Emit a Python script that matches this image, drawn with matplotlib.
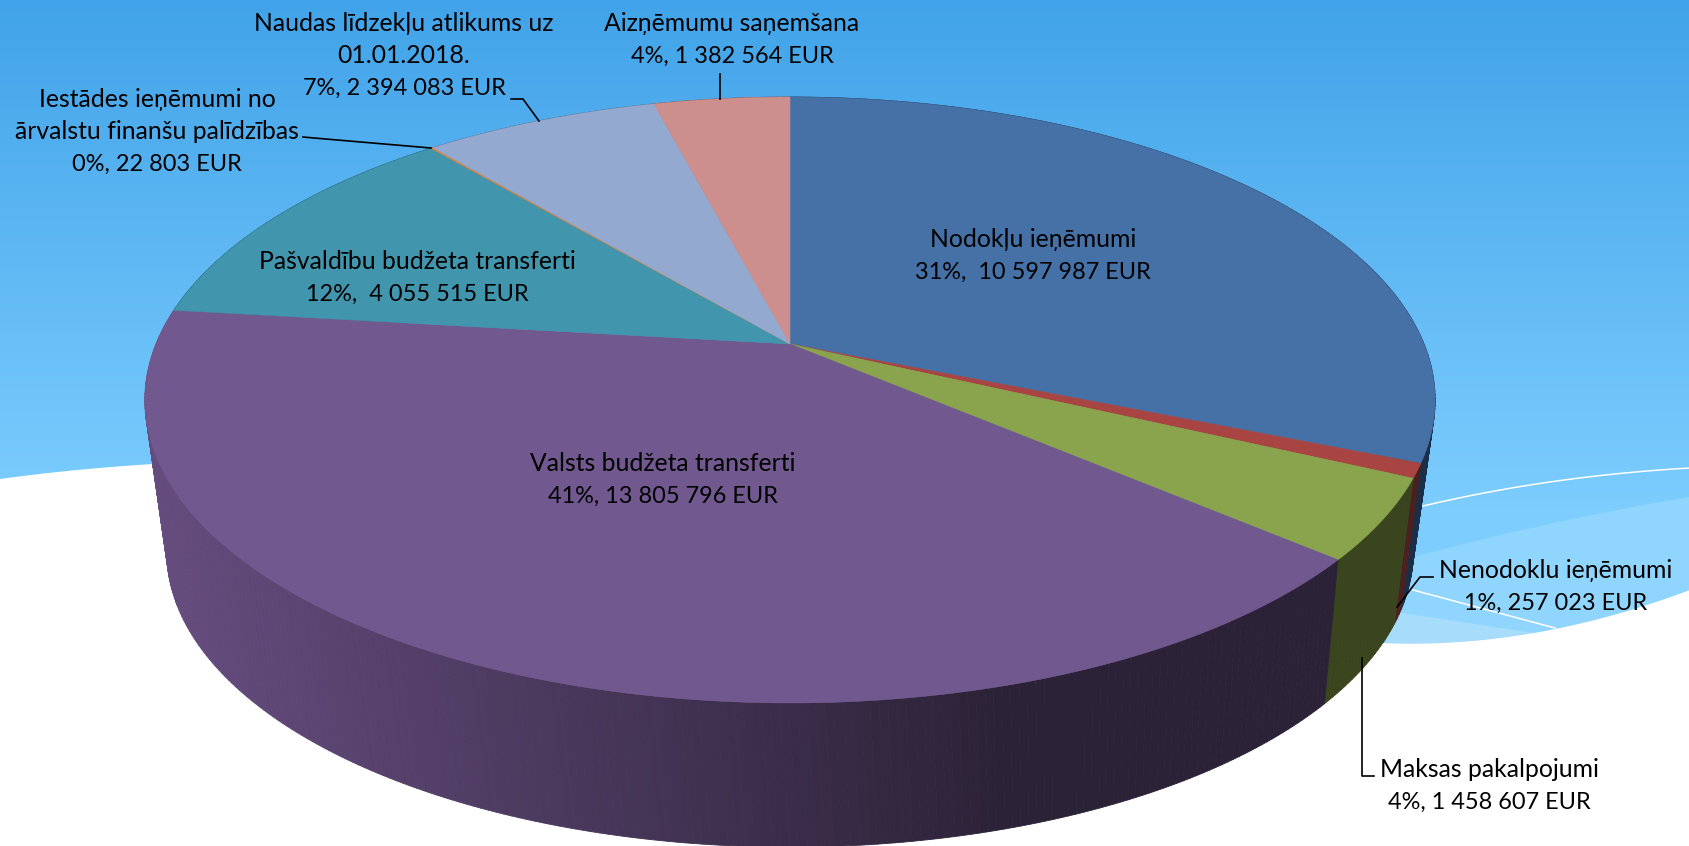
import matplotlib

matplotlib.use("Agg")

import matplotlib.pyplot as plt
import numpy as np
from matplotlib.collections import PolyCollection
from matplotlib.colors import LinearSegmentedColormap, to_rgb

plt.rcParams["font.family"] = ["Lato", "DejaVu Sans"]

# clockwise from 12 o'clock
names = [
    "Nodokļu ieņēmumi",
    "Nenodoklu ieņēmumi",
    "Maksas pakalpojumi",
    "Valsts budžeta transferti",
    "Pašvaldību budžeta transferti",
    "Iestādes ieņēmumi no\nārvalstu finanšu palīdzības",
    "Naudas līdzekļu atlikums uz\n01.01.2018.",
    "Aizņēmumu saņemšana",
]
values = [10597987, 257023, 1458607, 13805796, 4055515, 22803, 2394083, 1382564]
value_text = [
    "31%,  10 597 987 EUR",
    "1%, 257 023 EUR",
    "4%, 1 458 607 EUR",
    "41%, 13 805 796 EUR",
    "12%,  4 055 515 EUR",
    "0%, 22 803 EUR",
    "7%, 2 394 083 EUR",
    "4%, 1 382 564 EUR",
]
top_colors = ["#4571a6", "#a84442", "#89a44d", "#71588f", "#4195ac", "#db843d", "#93a9cf", "#cd8f8e"]
side_colors = ["#1b2f49", "#4d2020", "#3a441d", "#2c2237", "#1c4450", "#6b3f1c", "#455068", "#604342"]

label_pos = [(1033, 256), (1556, 587), (1489, 786), (663, 480), (417, 278), (157, 132), (404, 56), (732, 40)]
leaders = [
    None,
    [(1433, 577), (1420, 577), (1397, 607)],
    [(1374, 776), (1362, 776), (1362, 658)],
    None,
    None,
    [(303, 137), (314, 138), (431, 148)],
    [(511, 99), (523, 99), (539, 121)],
    [(720, 74), (720, 99)],
]

# pie geometry in pixels
APEX = (790, 344)
RX, RY, PERSP = 634, 292.6, 0.1848
RIM_CENTER = (790, 400)
LOW_CENTER = (790, 552)
LOW_SCALE = (0.966, 0.974)
LINE_H = 32.3


def top_rim(theta):
    u, v = np.sin(theta), np.cos(theta)
    d = 1 + PERSP * v
    return APEX[0] + RX * u / d, APEX[1] - RY * v / d


def low_rim(theta):
    x, y = top_rim(theta - 0.014)
    return (
        LOW_CENTER[0] + (x - RIM_CENTER[0]) * LOW_SCALE[0],
        LOW_CENTER[1] + (y - RIM_CENTER[1]) * LOW_SCALE[1],
    )


def bez(p0, p1, p2, n=40):
    t = np.linspace(0, 1, n)[:, None]
    return (1 - t) ** 2 * np.array(p0) + 2 * t * (1 - t) * np.array(p1) + t**2 * np.array(p2)


fig = plt.figure(figsize=(16.9, 8.46), dpi=100)
ax = fig.add_axes([0, 0, 1, 1])

# background
sky = LinearSegmentedColormap.from_list("sky", ["#41a3e9", "#7dcdfe"])
ax.imshow(
    np.linspace(0, 1, 256)[:, None],
    cmap=sky,
    extent=(0, 1690, 510, 0),
    aspect="auto",
    zorder=0,
)
ax.fill_between([0, 1690], 509, 660, color="#7dcdfe", lw=0, zorder=0)
ax.set_xlim(0, 1690)
ax.set_ylim(846, 0)
ax.axis("off")

band = np.vstack([bez((1410, 558), (1550, 520), (1690, 497)), [(1690, 620), (1380, 660)]])
ax.fill(band[:, 0], band[:, 1], color="#90d5fd", lw=0, zorder=1)
ax.fill([1395, 1535, 1535, 1380], [612, 633, 660, 660], color="#a8dcfb", lw=0, zorder=1)

white = np.vstack(
    [
        bez((0, 479), (80, 468), (170, 463)),
        bez((1380, 643), (1530, 650), (1690, 590)),
        [(1690, 846), (0, 846)],
    ]
)
ax.fill(white[:, 0], white[:, 1], color="white", lw=0, zorder=2)
line1 = bez((1423, 506), (1550, 476), (1690, 468))
ax.plot(line1[:, 0], line1[:, 1], color="white", lw=1.1, zorder=3)
ax.plot([1413, 1555], [590, 628], color="white", lw=1.1, zorder=3)

# slice boundaries from the values
fractions = np.cumsum([0] + values) / sum(values)
angles = 2 * np.pi * fractions

# side wall, back to front
quads = []
for i in range(len(values)):
    n = max(2, int(np.degrees(angles[i + 1] - angles[i]) * 1.5))
    ths = np.linspace(angles[i], angles[i + 1], n)
    for a, b in zip(ths[:-1], ths[1:]):
        x0, y0 = top_rim(a)
        x1, y1 = top_rim(b)
        x2, y2 = low_rim(b)
        x3, y3 = low_rim(a)
        if i == 3:
            mix = np.clip((0.5 * (x0 + x1) - 150) / 850, 0, 1)
            color = tuple(
                (1 - mix) * np.array(to_rgb("#654c7e")) + mix * np.array(to_rgb(side_colors[3]))
            )
        else:
            color = to_rgb(side_colors[i])
        quads.append((np.cos(0.5 * (a + b)), [(x0, y0), (x1, y1), (x2, y2), (x3, y3)], color))
quads.sort(key=lambda q: -q[0])
ax.add_collection(
    PolyCollection(
        [q[1] for q in quads],
        facecolors=[q[2] for q in quads],
        edgecolors=[q[2] for q in quads],
        linewidths=0.6,
        zorder=4,
    )
)

# top face
for i, color in enumerate(top_colors):
    ths = np.linspace(angles[i], angles[i + 1], 200)
    xs, ys = top_rim(ths)
    ax.fill(
        np.r_[APEX[0], xs],
        np.r_[APEX[1], ys],
        facecolor=color,
        edgecolor=color,
        lw=0.4,
        zorder=5,
    )

# labels and leader lines; the value line is set a bit smaller (Lato digits run wide)
for name, txt, pos, lead in zip(names, value_text, label_pos, leaders):
    n_name = name.count("\n") + 1
    ax.text(
        pos[0],
        pos[1] - LINE_H / 2,
        name,
        ha="center",
        va="center",
        multialignment="center",
        fontsize=17.8,
        linespacing=1.48,
        color="black",
        zorder=7,
    )
    ax.text(
        pos[0],
        pos[1] + n_name * LINE_H / 2,
        txt,
        ha="center",
        va="center",
        fontsize=16.9,
        color="black",
        zorder=7,
    )
    if lead is not None:
        ax.plot([p[0] for p in lead], [p[1] for p in lead], color="black", lw=1.2, zorder=6)

fig.savefig("out.png", dpi=100)
plt.close(fig)
